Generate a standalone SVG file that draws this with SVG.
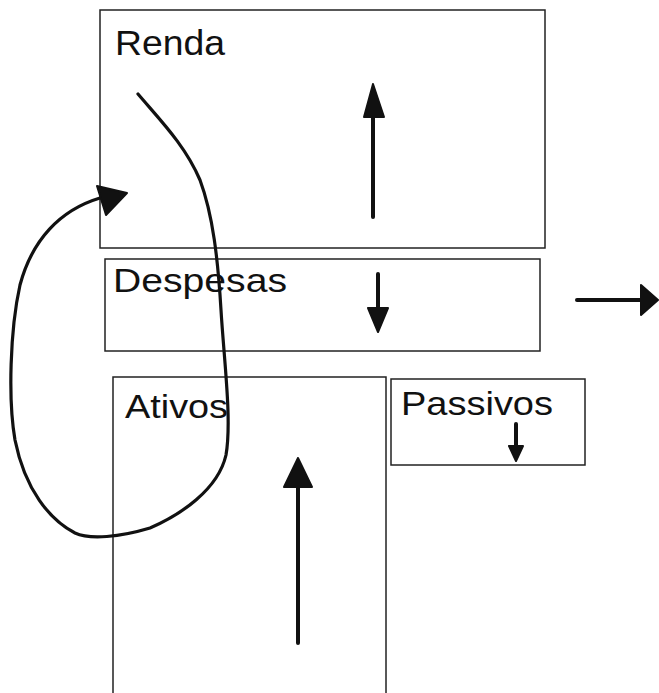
<svg xmlns="http://www.w3.org/2000/svg" width="659" height="693" viewBox="0 0 659 693">
<style>
.box{fill:none;stroke:#222;stroke-width:1.5}
.lbl{font-family:"Liberation Sans",Arial,sans-serif;font-size:33px;fill:#111}
.ln{fill:none;stroke:#111;stroke-width:4;stroke-linecap:round}
.hd{fill:#111;stroke:#111;stroke-width:2;stroke-linejoin:round}
.cv{fill:none;stroke:#111;stroke-width:3.2;stroke-linecap:round;stroke-linejoin:round}
</style>
<rect width="659" height="693" fill="#fff"/>
<g id="renda">
<rect class="box" x="100" y="10" width="445" height="238"/>
<text class="lbl" x="115" y="55" textLength="110" lengthAdjust="spacingAndGlyphs" style="font-size:35px">Renda</text>
<line class="ln" x1="373" y1="217" x2="373" y2="115"/>
<polygon class="hd" points="373,84 364,117 384,117"/>
</g>
<g id="despesas">
<rect class="box" x="105" y="259" width="435" height="92"/>
<text class="lbl" x="113" y="292" textLength="174" lengthAdjust="spacingAndGlyphs">Despesas</text>
<line class="ln" x1="378" y1="274" x2="378" y2="310"/>
<polygon class="hd" points="378,332 368,308 388,308"/>
</g>
<g id="ativos">
<rect class="box" x="113" y="377" width="273" height="330"/>
<text class="lbl" x="125" y="418" textLength="103" lengthAdjust="spacingAndGlyphs">Ativos</text>
<line class="ln" x1="298" y1="643" x2="298" y2="485"/>
<polygon class="hd" points="298,458 284,487 312,487"/>
</g>
<g id="passivos">
<rect class="box" x="391" y="379" width="194" height="86"/>
<text class="lbl" x="401" y="415" textLength="152" lengthAdjust="spacingAndGlyphs">Passivos</text>
<line class="ln" x1="516" y1="424" x2="516" y2="448"/>
<polygon class="hd" points="516,461 509,446 523,446"/>
</g>
<g id="connectors">
<line class="ln" x1="577" y1="300" x2="640" y2="300"/>
<polygon class="hd" points="658,300 641,285 641,315"/>
<path class="cv" d="M138,94 C160,120 185,145 200,180 C213,215 218,260 221,310 C224,360 232,420 226,455 C218,490 180,515 150,528 C120,537 90,540 75,533 C50,520 25,490 15,440 C8,400 10,330 20,285 C32,240 60,210 100,198"/>
<polygon class="hd" points="127,193 97,186 106,215"/>
</g>
</svg>
